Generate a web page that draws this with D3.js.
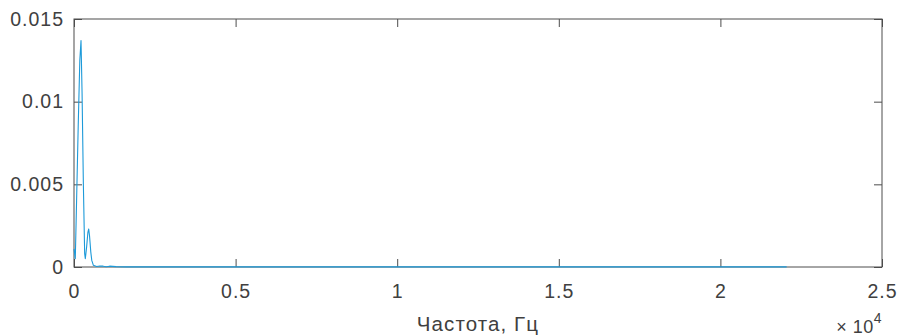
<!DOCTYPE html>
<html>
<head>
<meta charset="utf-8">
<script src="https://cdn.jsdelivr.net/npm/d3@7"></script>
<style>
  body { margin: 0; background: #fff; }
  text { font-family: "Liberation Sans", Arial, sans-serif; fill: #404040; letter-spacing: 1px; }
</style>
</head>
<body>
<div id="chart"></div>
<script>
// Spectrum (frequency in Hz, amplitude)
var freqHz = [0, 20, 40, 80, 130, 180, 217, 250, 290, 330, 350, 390, 430, 455, 480, 520, 550, 600, 700, 800,
  900, 1000, 1100, 1300, 1600, 2000, 3000, 5000, 8000, 12000, 16000, 20000, 22050];
var amp = [0.0011, 0.0008, 0.0005, 0.004, 0.0085, 0.0125, 0.0137, 0.0105, 0.005, 0.0008, 0.0005, 0.0012, 0.0021, 0.0023, 0.0019, 0.0009, 0.0004, 0.0001, 0.00003, 0.00006,
  0.00005, 0.00002, 0.00005, 0.00002, 0.00001, 0.00001, 0.000008, 0.000006, 0.000005, 0.000005, 0.000005, 0.000005, 0.000005];

var xTicks = [0, 5000, 10000, 15000, 20000, 25000];
var xTickLabels = ["0", "0.5", "1", "1.5", "2", "2.5"];
var yTicks = [0, 0.005, 0.01, 0.015];
var yTickLabels = ["0", "0.005", "0.01", "0.015"];

var svgWidth = 899;
var svgHeight = 336;
var margin = { top: 19, right: 17, bottom: 69, left: 74 };
var chartWidth = svgWidth - margin.left - margin.right;
var chartHeight = svgHeight - margin.top - margin.bottom;
var axisColor = "#4d4d4d";
var tickLen = 8;
var fontSize = "19.5px";

var svg = d3.select("#chart")
  .append("svg")
  .attr("width", svgWidth)
  .attr("height", svgHeight);

var chartGroup = svg.append("g")
  .attr("transform", `translate(${margin.left}, ${margin.top})`);

var xScale = d3.scaleLinear().domain([0, 25000]).range([0, chartWidth]);
var yScale = d3.scaleLinear().domain([0, 0.015]).range([chartHeight, 0]);

// axes with inward ticks, mirrored on top and right
function styleAxis(g) {
  g.select(".domain").remove();
  g.selectAll(".tick line").attr("stroke", axisColor);
  g.selectAll(".tick text").attr("fill", "#404040").style("font-size", fontSize);
}

var bottomAxis = d3.axisBottom(xScale).tickValues(xTicks)
  .tickSize(-tickLen).tickPadding(17)
  .tickFormat(function (d, i) { return xTickLabels[i]; });
chartGroup.append("g")
  .attr("transform", `translate(0, ${chartHeight})`)
  .call(bottomAxis)
  .call(styleAxis);

var topAxis = d3.axisTop(xScale).tickValues(xTicks).tickSize(-tickLen).tickFormat("");
chartGroup.append("g").call(topAxis).call(styleAxis);

var leftAxis = d3.axisLeft(yScale).tickValues(yTicks)
  .tickSize(-tickLen).tickPadding(10)
  .tickFormat(function (d, i) { return yTickLabels[i]; });
chartGroup.append("g")
  .call(leftAxis)
  .call(styleAxis);

var rightAxis = d3.axisRight(yScale).tickValues(yTicks).tickSize(-tickLen).tickFormat("");
chartGroup.append("g")
  .attr("transform", `translate(${chartWidth}, 0)`)
  .call(rightAxis)
  .call(styleAxis);

// box
chartGroup.append("rect")
  .attr("x", 0).attr("y", 0)
  .attr("width", chartWidth).attr("height", chartHeight)
  .attr("fill", "none")
  .attr("stroke", axisColor)
  .attr("stroke-width", 1);

// data line
var line = d3.line()
  .x(function (d, i) { return xScale(freqHz[i]); })
  .y(function (d) { return yScale(d); });

chartGroup.append("path")
  .datum(amp)
  .attr("fill", "none")
  .attr("stroke", "#1d9ad9")
  .attr("stroke-width", 1.1)
  .attr("stroke-linejoin", "round")
  .attr("d", line);

// x label
chartGroup.append("text")
  .attr("x", chartWidth / 2)
  .attr("y", chartHeight + 64)
  .attr("text-anchor", "middle")
  .style("font-size", "20.5px")
  .style("letter-spacing", "1.1px")
  .text("Частота, Гц");

// exponent label
var expText = chartGroup.append("text")
  .attr("x", chartWidth)
  .attr("y", chartHeight + 66)
  .attr("text-anchor", "end")
  .style("font-size", "18px")
  .style("letter-spacing", "0.5px");
expText.append("tspan").text("× 10");
expText.append("tspan").attr("dy", -10).style("font-size", "14px").text("4");
</script>
</body>
</html>
